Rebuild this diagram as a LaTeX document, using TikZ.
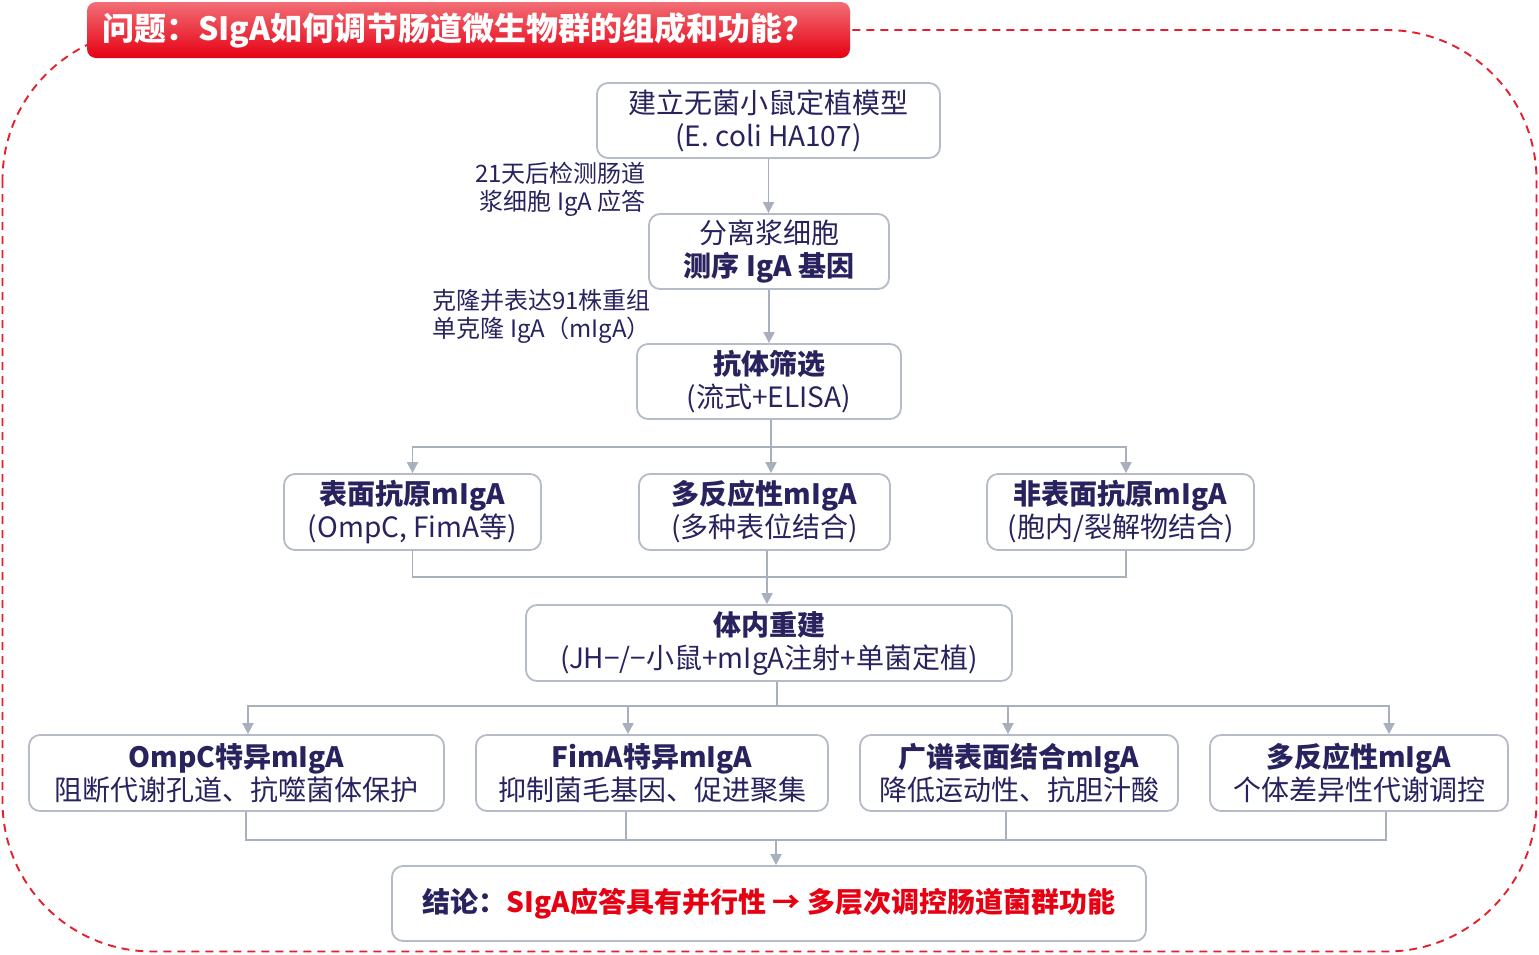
\documentclass[tikz,border=0pt]{standalone}
\usepackage{fontspec}
\setmainfont{Noto Sans CJK SC}
\usetikzlibrary{arrows.meta}
\definecolor{navy}{HTML}{28235F}
\definecolor{myred}{HTML}{E60012}
\definecolor{boxline}{HTML}{B5BBC7}
\definecolor{connc}{HTML}{A9B0BD}
\definecolor{dashred}{HTML}{E4202C}
\begin{document}
\begin{tikzpicture}[x=1pt,y=-1pt,
  box/.style={draw=boxline, line width=1.8pt, rounded corners=11pt, fill=white,
    align=center, text=navy, font=\fontsize{28}{33}\selectfont, inner sep=0pt},
  conn/.style={draw=connc, line width=1.8pt},
  arr/.style={conn, -{Triangle[length=11pt,width=11pt]}},
  lab/.style={text=navy, font=\fontsize{24}{28}\selectfont, align=right, anchor=east, inner sep=0pt}]
\useasboundingbox (0,0) rectangle (1539,954);

% dashed frame
\draw[dashred, line width=1.9pt, dash pattern=on 8pt off 6pt, rounded corners=150pt]
  (2.5,30) rectangle (1536.5,951.5);

% title
\shade[rounded corners=9pt, top color={rgb,255:red,242;green,110;blue,118}, middle color=myred, bottom color=myred]
  (87,2) rectangle (850,58);
\node[anchor=west, text=white, inner sep=0pt, font=\fontsize{32}{36}\selectfont\bfseries] (title) at (102,30)
  {问题：SIgA如何调节肠道微生物群的组成和功能？};

% top chain
\node[box, minimum width=343pt, minimum height=75pt] (b1) at (768.5,120.5)
  {建立无菌小鼠定植模型\\(E. coli HA107)};
\node[box, minimum width=240pt, minimum height=75pt] (b2) at (769,251.5)
  {分离浆细胞\\\textbf{测序 IgA 基因}};
\node[box, minimum width=264pt, minimum height=75pt] (b3) at (769,381.5)
  {\textbf{抗体筛选}\\(流式+ELISA)};

\node[lab] (l1) at (646,189) {21天后检测肠道\\浆细胞 IgA 应答};
\node[lab] (l2) at (651,316) {克隆并表达91株重组\\单克隆 IgA（mIgA）};

\draw[arr] (b1.south) -- (b1.south |- b2.north);
\draw[arr] (b2.south) -- (b2.south |- b3.north);

% row 2
\node[box, minimum width=257pt, minimum height=76pt] (ra) at (412.5,512)
  {\textbf{表面抗原mIgA}\\(OmpC, FimA等)};
\node[box, minimum width=251pt, minimum height=76pt] (rb) at (764.5,512)
  {\textbf{多反应性mIgA}\\(多种表位结合)};
\node[box, minimum width=267pt, minimum height=76pt] (rc) at (1120.5,512)
  {\textbf{非表面抗原mIgA}\\(胞内/裂解物结合)};

\coordinate (s1) at (771,447);
\draw[conn] (b3.south -| s1) -- (s1);
\draw[arr] (s1) -| (ra.north);
\draw[arr] (s1) -- (s1 |- rb.north);
\draw[arr] (s1) -| ([xshift=5.5pt]rc.north);

% merge 1
\node[box, minimum width=486pt, minimum height=76pt] (d) at (769,643)
  {\textbf{体内重建}\\(JH−/−小鼠+mIgA注射+单菌定植)};
\coordinate (m1) at (767,577);
\draw[conn] (ra.south) |- (m1);
\draw[conn] ([xshift=5.5pt]rc.south) |- (m1);
\draw[conn] (rb.south -| m1) -- (m1);
\draw[arr] (m1) -- (m1 |- d.north);

% row 3
\node[box, minimum width=415pt, minimum height=76pt] (e) at (236.5,773)
  {\textbf{OmpC特异mIgA}\\阻断代谢孔道、抗噬菌体保护};
\node[box, minimum width=352pt, minimum height=76pt] (f) at (652,773)
  {\textbf{FimA特异mIgA}\\抑制菌毛基因、促进聚集};
\node[box, minimum width=318pt, minimum height=76pt] (g) at (1019,773)
  {\textbf{广谱表面结合mIgA}\\降低运动性、抗胆汁酸};
\node[box, minimum width=298pt, minimum height=76pt] (h) at (1359,773)
  {\textbf{多反应性mIgA}\\个体差异性代谢调控};

\coordinate (s2) at (777,706);
\draw[conn] (d.south -| s2) -- (s2);
\draw[arr] (s2) -| ([xshift=11.5pt]e.north);
\draw[arr] (s2) -| ([xshift=-24pt]f.north);
\draw[arr] (s2) -| ([xshift=-11pt]g.north);
\draw[arr] (s2) -| ([xshift=30pt]h.north);

% conclusion
\node[box, minimum width=754pt, minimum height=75pt, font=\fontsize{28}{33}\selectfont\bfseries] (i) at (769,903.5)
  {结论：\textcolor{myred}{SIgA应答具有并行性 → 多层次调控肠道菌群功能}};

\coordinate (m2) at (776,840);
\draw[conn] ([xshift=9.5pt]e.south) |- (m2);
\draw[conn] ([xshift=-26pt]f.south) |- (m2);
\draw[conn] ([xshift=-13pt]g.south) |- (m2);
\draw[conn] ([xshift=27pt]h.south) |- (m2);
\draw[arr] (m2) -- (m2 |- i.north);
\end{tikzpicture}
\end{document}
